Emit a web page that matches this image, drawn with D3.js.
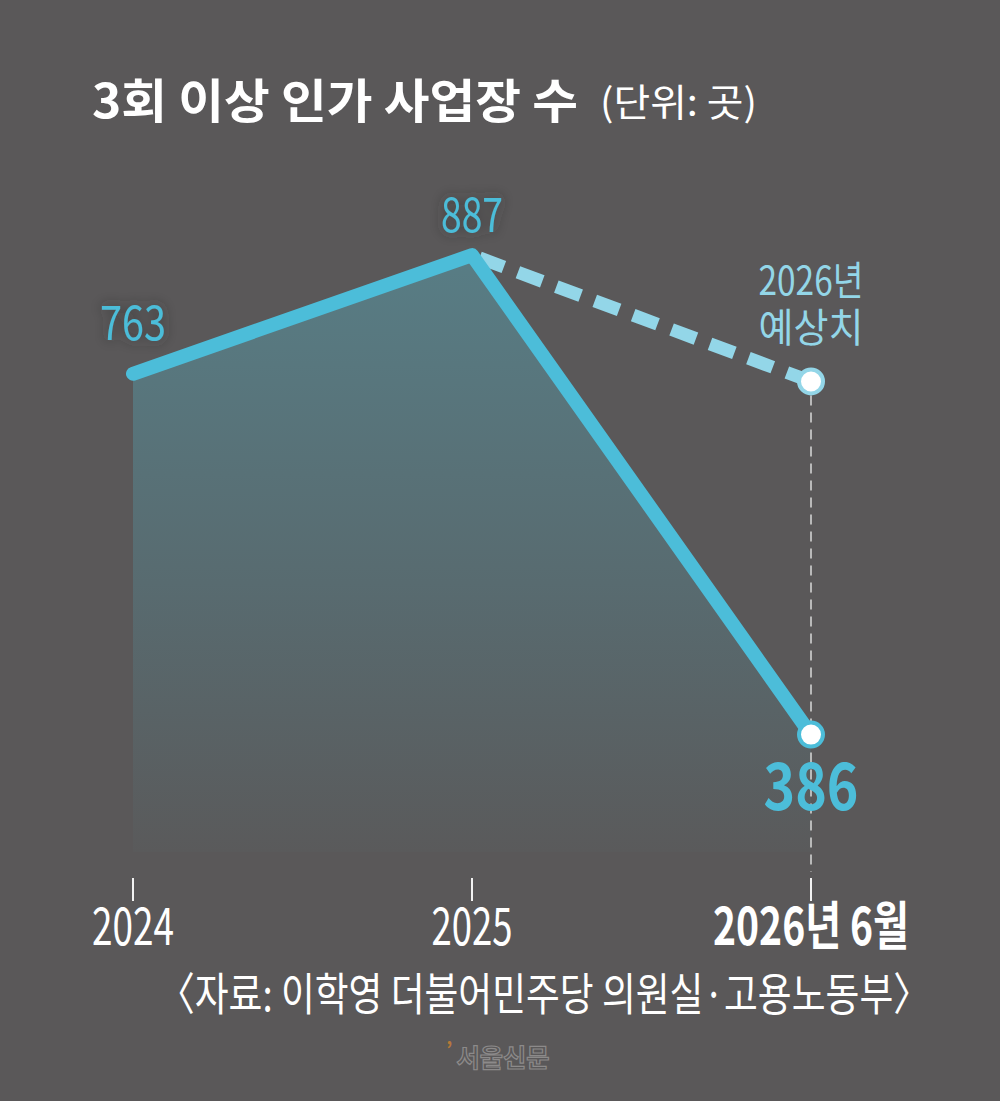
<!DOCTYPE html>
<html>
<head>
<meta charset="utf-8">
<script src="https://cdn.jsdelivr.net/npm/d3@7"></script>
<style>
  html, body { margin: 0; padding: 0; background: #5a5859; }
  svg { display: block; }
  text { font-family: 'Noto Sans CJK KR', 'Noto Sans', sans-serif; }
</style>
</head>
<body>
<div id="chart"></div>
<script>
const width = 1000
const height = 1101

// data
const categories = ['2024', '2025', '2026년 6월']
const values = [763, 887, 386]
const forecastFrom = '2025'
const forecastTo = '2026년 6월'
const forecastValue = 755
const title = '3회 이상 인가 사업장 수'
const unit = '(단위: 곳)'
const forecastLabel = ['2026년', '예상치']
const source = '〈자료: 이학영 더불어민주당 의원실·고용노동부〉'

const data = categories.map((c, i) => ({ cat: c, value: values[i] }))

const lineColor = '#4cbdd9'
const dashColor = '#93d6e8'

const x = d3.scalePoint()
  .domain(categories)
  .range([133, 811])

const y = d3.scaleLinear()
  .domain([0, 1000])
  .range([1104, 147])

const baseY = 852

const svg = d3.select('#chart')
  .append('svg')
  .attr('width', width)
  .attr('height', height)

svg.append('rect')
  .attr('width', width)
  .attr('height', height)
  .attr('fill', '#5a5859')

const defs = svg.append('defs')

const grad = defs.append('linearGradient')
  .attr('id', 'areaGrad')
  .attr('gradientUnits', 'userSpaceOnUse')
  .attr('x1', 0).attr('x2', 0)
  .attr('y1', y(887)).attr('y2', baseY)
grad.append('stop').attr('offset', 0).attr('stop-color', '#587d85')
grad.append('stop').attr('offset', 0.55).attr('stop-color', '#586b70')
grad.append('stop').attr('offset', 1).attr('stop-color', '#5a5a5b')

const glow = defs.append('filter')
  .attr('id', 'glow')
  .attr('x', '-50%').attr('y', '-50%')
  .attr('width', '200%').attr('height', '200%')
glow.append('feDropShadow')
  .attr('dx', 0).attr('dy', 0)
  .attr('stdDeviation', 7)
  .attr('flood-color', '#2e2e2e')
  .attr('flood-opacity', 0.7)

// area under the line
const area = d3.area()
  .x((d) => x(d.cat))
  .y0(baseY)
  .y1((d) => y(d.value))

svg.append('path')
  .datum(data)
  .attr('d', area)
  .attr('fill', 'url(#areaGrad)')

// grey guide down from the forecast point
svg.append('line')
  .attr('x1', x(forecastTo)).attr('x2', x(forecastTo))
  .attr('y1', y(forecastValue) + 14).attr('y2', 872)
  .attr('stroke', '#b9b9b9')
  .attr('stroke-width', 2)
  .attr('stroke-dasharray', '10 7')

// forecast dashed line
const line = d3.line()
  .x((d) => x(d.cat))
  .y((d) => y(d.value))

svg.append('path')
  .datum([{ cat: forecastFrom, value: values[1] }, { cat: forecastTo, value: forecastValue }])
  .attr('d', line)
  .attr('fill', 'none')
  .attr('stroke', dashColor)
  .attr('stroke-width', 13)
  .attr('stroke-dasharray', '26 15')
  .attr('stroke-dashoffset', -8)

// main line
svg.append('path')
  .datum(data)
  .attr('d', line)
  .attr('fill', 'none')
  .attr('stroke', lineColor)
  .attr('stroke-width', 14)
  .attr('stroke-linecap', 'round')
  .attr('stroke-linejoin', 'round')

// end circles
svg.append('circle')
  .attr('cx', x(forecastTo)).attr('cy', y(forecastValue))
  .attr('r', 12)
  .attr('fill', '#fff')
  .attr('stroke', dashColor)
  .attr('stroke-width', 4)

svg.append('circle')
  .attr('cx', x(forecastTo)).attr('cy', y(values[2]))
  .attr('r', 12)
  .attr('fill', '#fff')
  .attr('stroke', lineColor)
  .attr('stroke-width', 4)

// x axis ticks
svg.append('g')
  .selectAll('line')
  .data(categories)
  .join('line')
  .attr('x1', (d) => x(d)).attr('x2', (d) => x(d))
  .attr('y1', 878).attr('y2', 901)
  .attr('stroke', '#f2f2f2')
  .attr('stroke-width', 2)

function label(g, txt, opts) {
  return g.append('text')
    .attr('x', opts.x)
    .attr('y', opts.y)
    .attr('text-anchor', opts.anchor || 'middle')
    .attr('font-size', opts.size)
    .attr('font-weight', opts.weight || 400)
    .attr('fill', opts.fill || '#fff')
    .attr('textLength', opts.len)
    .attr('lengthAdjust', 'spacingAndGlyphs')
    .text(txt)
}

// x labels
const xLabelLen = [82, 81, 196]
categories.forEach((c, i) => {
  label(svg, c, {
    x: x(c), y: 945, size: 52, len: xLabelLen[i],
    weight: i === 2 ? 700 : 400
  })
})

// value labels
const valueLabels = svg.append('g')
label(valueLabels, values[0], { x: x(categories[0]), y: 340, size: 48, len: 66, fill: lineColor })
  .attr('filter', 'url(#glow)')
label(valueLabels, values[1], { x: x(categories[1]), y: 232, size: 48, len: 62, fill: lineColor })
  .attr('filter', 'url(#glow)')
label(valueLabels, values[2], { x: x(categories[2]), y: 810, size: 65, len: 95, fill: lineColor, weight: 700 })

label(svg, forecastLabel[0], { x: x(forecastTo), y: 295, size: 40, len: 105, fill: dashColor })
label(svg, forecastLabel[1], { x: x(forecastTo), y: 342, size: 40, len: 105, fill: dashColor })

// title
label(svg, title, { x: 92, y: 118, size: 47, len: 486, anchor: 'start', weight: 700 })
label(svg, unit, { x: 600, y: 116, size: 38, len: 157, anchor: 'start', weight: 400 })

// source
label(svg, source, { x: 544, y: 1011, size: 45, len: 772, weight: 400 })

// watermark
label(svg, '서울신문', { x: 503, y: 1067, size: 25, len: 93, weight: 700, fill: '#5a5859' })
  .attr('stroke', '#8c8a8a')
  .attr('stroke-width', 1.2)
svg.append('text')
  .attr('x', 446).attr('y', 1057)
  .attr('font-size', 20)
  .attr('font-weight', 700)
  .attr('fill', '#b5783a')
  .text('’')
</script>
</body>
</html>
